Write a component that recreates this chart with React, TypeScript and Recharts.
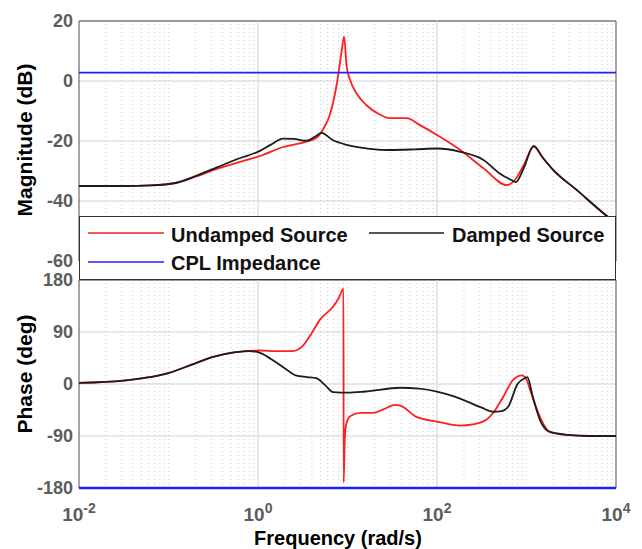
import { LineChart, Line, XAxis, YAxis, CartesianGrid, ReferenceLine, ReferenceArea } from 'recharts';

const FONT = '"Liberation Sans", Arial, Helvetica, sans-serif';
const TICK_GREY = '#5c5c5c';

// axes
const decadeTicks = [0.01, 1, 100, 10000];
const decadeExponents = ['-2', '0', '2', '4'];
const magTicks = [-60, -40, -20, 0, 20];
const phaseTicks = [-180, -90, 0, 90, 180];

// Undamped source, magnitude (dB) vs frequency (rad/s)
const undampedMagFreq = [
  0.01, 0.0316, 0.0631, 0.12, 0.204, 0.347, 0.589, 1.05, 1.91, 3.39, 4.47, 5.5, 6.31, 7.59, 8.61, 9.16,
  9.77, 10.7, 12.6, 16.2, 22.4, 29.5, 45.7, 64.6, 100, 182, 331, 603, 741, 933, 1202, 1514, 1995, 3631,
  7244, 10000,
];
const undampedMag = [
  -35, -35, -34.8, -34, -31.8, -29.3, -27.2, -25, -22, -20.3, -19, -15.4, -11.5, -1, 10, 14.8,
  5, 0.3, -4.1, -8, -11, -12.4, -12.4, -14.7, -18, -23, -29.1, -34.7, -33, -28, -21.9, -25.5, -29.7, -36.3,
  -44.1, -47.5,
];

// Damped source, magnitude (dB)
const dampedMagFreq = [
  0.01, 0.0316, 0.0631, 0.12, 0.204, 0.347, 0.589, 1.05, 1.38, 1.91, 2.51, 3.47, 4.37, 5.13, 6.76, 9.77,
  17.8, 29.5, 56.2, 100, 182, 331, 501, 676, 759, 933, 1202, 1514, 1995, 3631, 7244, 10000,
];
const dampedMag = [
  -35, -35, -34.8, -34, -31.6, -28.8, -26, -23.3, -21.3, -19.2, -19.3, -19.9, -18.5, -17.3, -19.6, -21.3,
  -22.6, -23, -22.8, -22.5, -23.6, -26.3, -30.8, -33, -33.7, -29, -21.6, -25.5, -29.7, -36.3, -44.1, -47.5,
];

// CPL impedance
const cplFreq = [0.01, 10000];
const cplMag = [2.8, 2.8];
const cplPhase = [-180, -180];

// Undamped source, phase (deg)
const undampedPhaseFreq = [
  0.01, 0.0316, 0.0562, 0.1, 0.178, 0.316, 0.562, 0.794, 1.05, 1.58, 2.45, 3.16, 3.98, 4.9, 6.92, 7.94,
  9.02, 9.06, 9.33, 9.66, 10.7, 13.8, 19.5, 25.1, 33.9, 39.8, 58.9, 100, 182, 251, 355, 447, 550, 708,
  891, 1000, 1096, 1413, 1660, 1820, 2818, 5012, 10000,
];
const undampedPhase = [
  2, 6, 11, 19, 33, 47, 55, 57.5, 58, 57, 57, 66, 88, 111, 134, 148,
  165, -170, -95, -70, -56, -50, -50, -44, -36, -38, -57, -65, -72, -70, -62, -45, -22, 7,
  15, 8, -10, -57, -77, -83, -88, -90, -90,
];

// Damped source, phase (deg)
const dampedPhaseFreq = [
  0.01, 0.0316, 0.0562, 0.1, 0.178, 0.316, 0.562, 0.794, 1, 1.41, 2, 2.63, 3.55, 4.47, 5.62, 6.92,
  10, 15.8, 38.9, 63.1, 100, 158, 214, 316, 427, 525, 631, 794, 955, 1023, 1175, 1413, 1820, 2818,
  5012, 10000,
];
const dampedPhase = [
  2, 6, 11, 19, 33, 47, 55, 57, 55, 43, 27, 15, 12, 10, -2, -14,
  -15, -13, -6.5, -8, -13, -22, -30, -41, -48, -47, -38, 0, 10, 12, -22, -62, -83, -88,
  -90, -90,
];

const toPoints = (freqs: number[], vals: number[]) => freqs.map((f, i) => ({ f, v: vals[i] }));

// dotted minor grid at 1..9 x 10^k, minus the labelled decades
const minorGrid: number[] = [];
[0.01, 0.1, 1, 10, 100, 1000].forEach((d) => {
  for (let m = 1; m <= 9; m++) {
    const v = +(d * m).toPrecision(3);
    if (!decadeTicks.includes(v)) minorGrid.push(v);
  }
});

function gridLines() {
  return [
    ...minorGrid.map((v) => (
      <ReferenceLine key={'m' + v} x={v} stroke="#cdcdcd" strokeDasharray="1 3" />
    )),
    ...[1, 100].map((v) => <ReferenceLine key={'M' + v} x={v} stroke="#d2d2d2" />),
  ];
}

function FreqTick(props: any) {
  const { x, y, payload } = props;
  const exp = decadeExponents[decadeTicks.indexOf(payload.value)];
  return (
    <text x={x} y={y + 33} textAnchor="middle" fill={TICK_GREY} fontFamily={FONT} fontWeight="bold" fontSize={19}>
      10
      <tspan dy={-8} fontSize={14}>
        {exp}
      </tspan>
    </text>
  );
}

const yTickStyle = { fill: TICK_GREY, fontSize: 18, fontWeight: 'bold', fontFamily: FONT };

function yTitle(text: string, cy: number) {
  return () => (
    <text
      x={24}
      y={cy}
      transform={`rotate(-90 24 ${cy})`}
      textAnchor="middle"
      dominantBaseline="central"
      fontFamily={FONT}
      fontWeight="bold"
      fontSize={21}
      fill="#000"
    >
      {text}
    </text>
  );
}

const lineProps = { dot: false, isAnimationActive: false, dataKey: 'v' } as const;

export default function App() {
  return (
    <div style={{ position: 'absolute', left: 0, top: 0, width: 642, height: 549, background: '#fff' }}>
      <div style={{ position: 'absolute', left: 0, top: 0 }}>
        <LineChart width={642} height={280} margin={{ top: 21, right: 26, bottom: 19, left: 0 }}>
          <CartesianGrid vertical={false} stroke="#d2d2d2" />
          {gridLines()}
          <XAxis type="number" dataKey="f" scale="log" domain={[0.01, 10000]} ticks={decadeTicks} hide allowDataOverflow />
          <YAxis
            type="number"
            domain={[-60, 20]}
            ticks={magTicks}
            interval={0}
            width={79}
            axisLine={false}
            tickLine={false}
            tickSize={0}
            tickMargin={6}
            tick={yTickStyle}
            label={yTitle('Magnitude (dB)', 140)}
          />
          <ReferenceArea x1={0.01} x2={10000} y1={-60} y2={20} fill="none" stroke="#4d4d4d" strokeWidth={1} />
          <Line {...lineProps} data={toPoints(undampedMagFreq, undampedMag)} type="monotone" stroke="#ff1f1f" strokeWidth={1.8} />
          <Line {...lineProps} data={toPoints(dampedMagFreq, dampedMag)} type="monotone" stroke="#1c1c1c" strokeWidth={1.8} />
          <Line {...lineProps} data={toPoints(cplFreq, cplMag)} type="linear" stroke="#1f1fff" strokeWidth={1.8} />
        </LineChart>
      </div>

      <div style={{ position: 'absolute', left: 0, top: 259 }}>
        <LineChart width={642} height={290} margin={{ top: 21, right: 26, bottom: 0, left: 0 }}>
          <CartesianGrid vertical={false} stroke="#d2d2d2" />
          {gridLines()}
          <XAxis
            type="number"
            dataKey="f"
            scale="log"
            domain={[0.01, 10000]}
            ticks={decadeTicks}
            interval={0}
            height={61}
            allowDataOverflow
            axisLine={false}
            tickLine={false}
            tickSize={0}
            tickMargin={0}
            tick={<FreqTick />}
            label={() => (
              <text x={338} y={286} textAnchor="middle" fontFamily={FONT} fontWeight="bold" fontSize={20} fill="#000">
                Frequency (rad/s)
              </text>
            )}
          />
          <YAxis
            type="number"
            domain={[-180, 180]}
            ticks={phaseTicks}
            interval={0}
            width={79}
            axisLine={false}
            tickLine={false}
            tickSize={0}
            tickMargin={6}
            tick={yTickStyle}
            label={yTitle('Phase (deg)', 374 - 259)}
          />
          <ReferenceArea x1={0.01} x2={10000} y1={-180} y2={180} fill="none" stroke="#4d4d4d" strokeWidth={1} />
          <Line {...lineProps} data={toPoints(undampedPhaseFreq, undampedPhase)} type="monotone" stroke="#ff1f1f" strokeWidth={1.8} />
          <Line {...lineProps} data={toPoints(dampedPhaseFreq, dampedPhase)} type="monotone" stroke="#1c1c1c" strokeWidth={1.8} />
          <Line {...lineProps} data={toPoints(cplFreq, cplPhase)} type="linear" stroke="#1f1fff" strokeWidth={2.4} />
        </LineChart>
      </div>

      {/* legend box laid over the lower part of the magnitude axes */}
      <div
        style={{
          position: 'absolute',
          left: 79,
          top: 216,
          width: 537,
          height: 64,
          boxSizing: 'border-box',
          border: '1px solid #333',
          background: '#fff',
        }}
      >
        <svg width={535} height={62} style={{ display: 'block' }} fontFamily={FONT} fontWeight="bold" fontSize={20}>
          <line x1={8} x2={84} y1={16} y2={16} stroke="#ff1f1f" strokeWidth={1.6} />
          <text x={91} y={25} fill="#111">Undamped Source</text>
          <line x1={289} x2={364} y1={16} y2={16} stroke="#1c1c1c" strokeWidth={1.6} />
          <text x={372} y={25} fill="#111">Damped Source</text>
          <line x1={8} x2={84} y1={45} y2={45} stroke="#1f1fff" strokeWidth={1.6} />
          <text x={91} y={53} fill="#111">CPL Impedance</text>
        </svg>
      </div>
    </div>
  );
}
